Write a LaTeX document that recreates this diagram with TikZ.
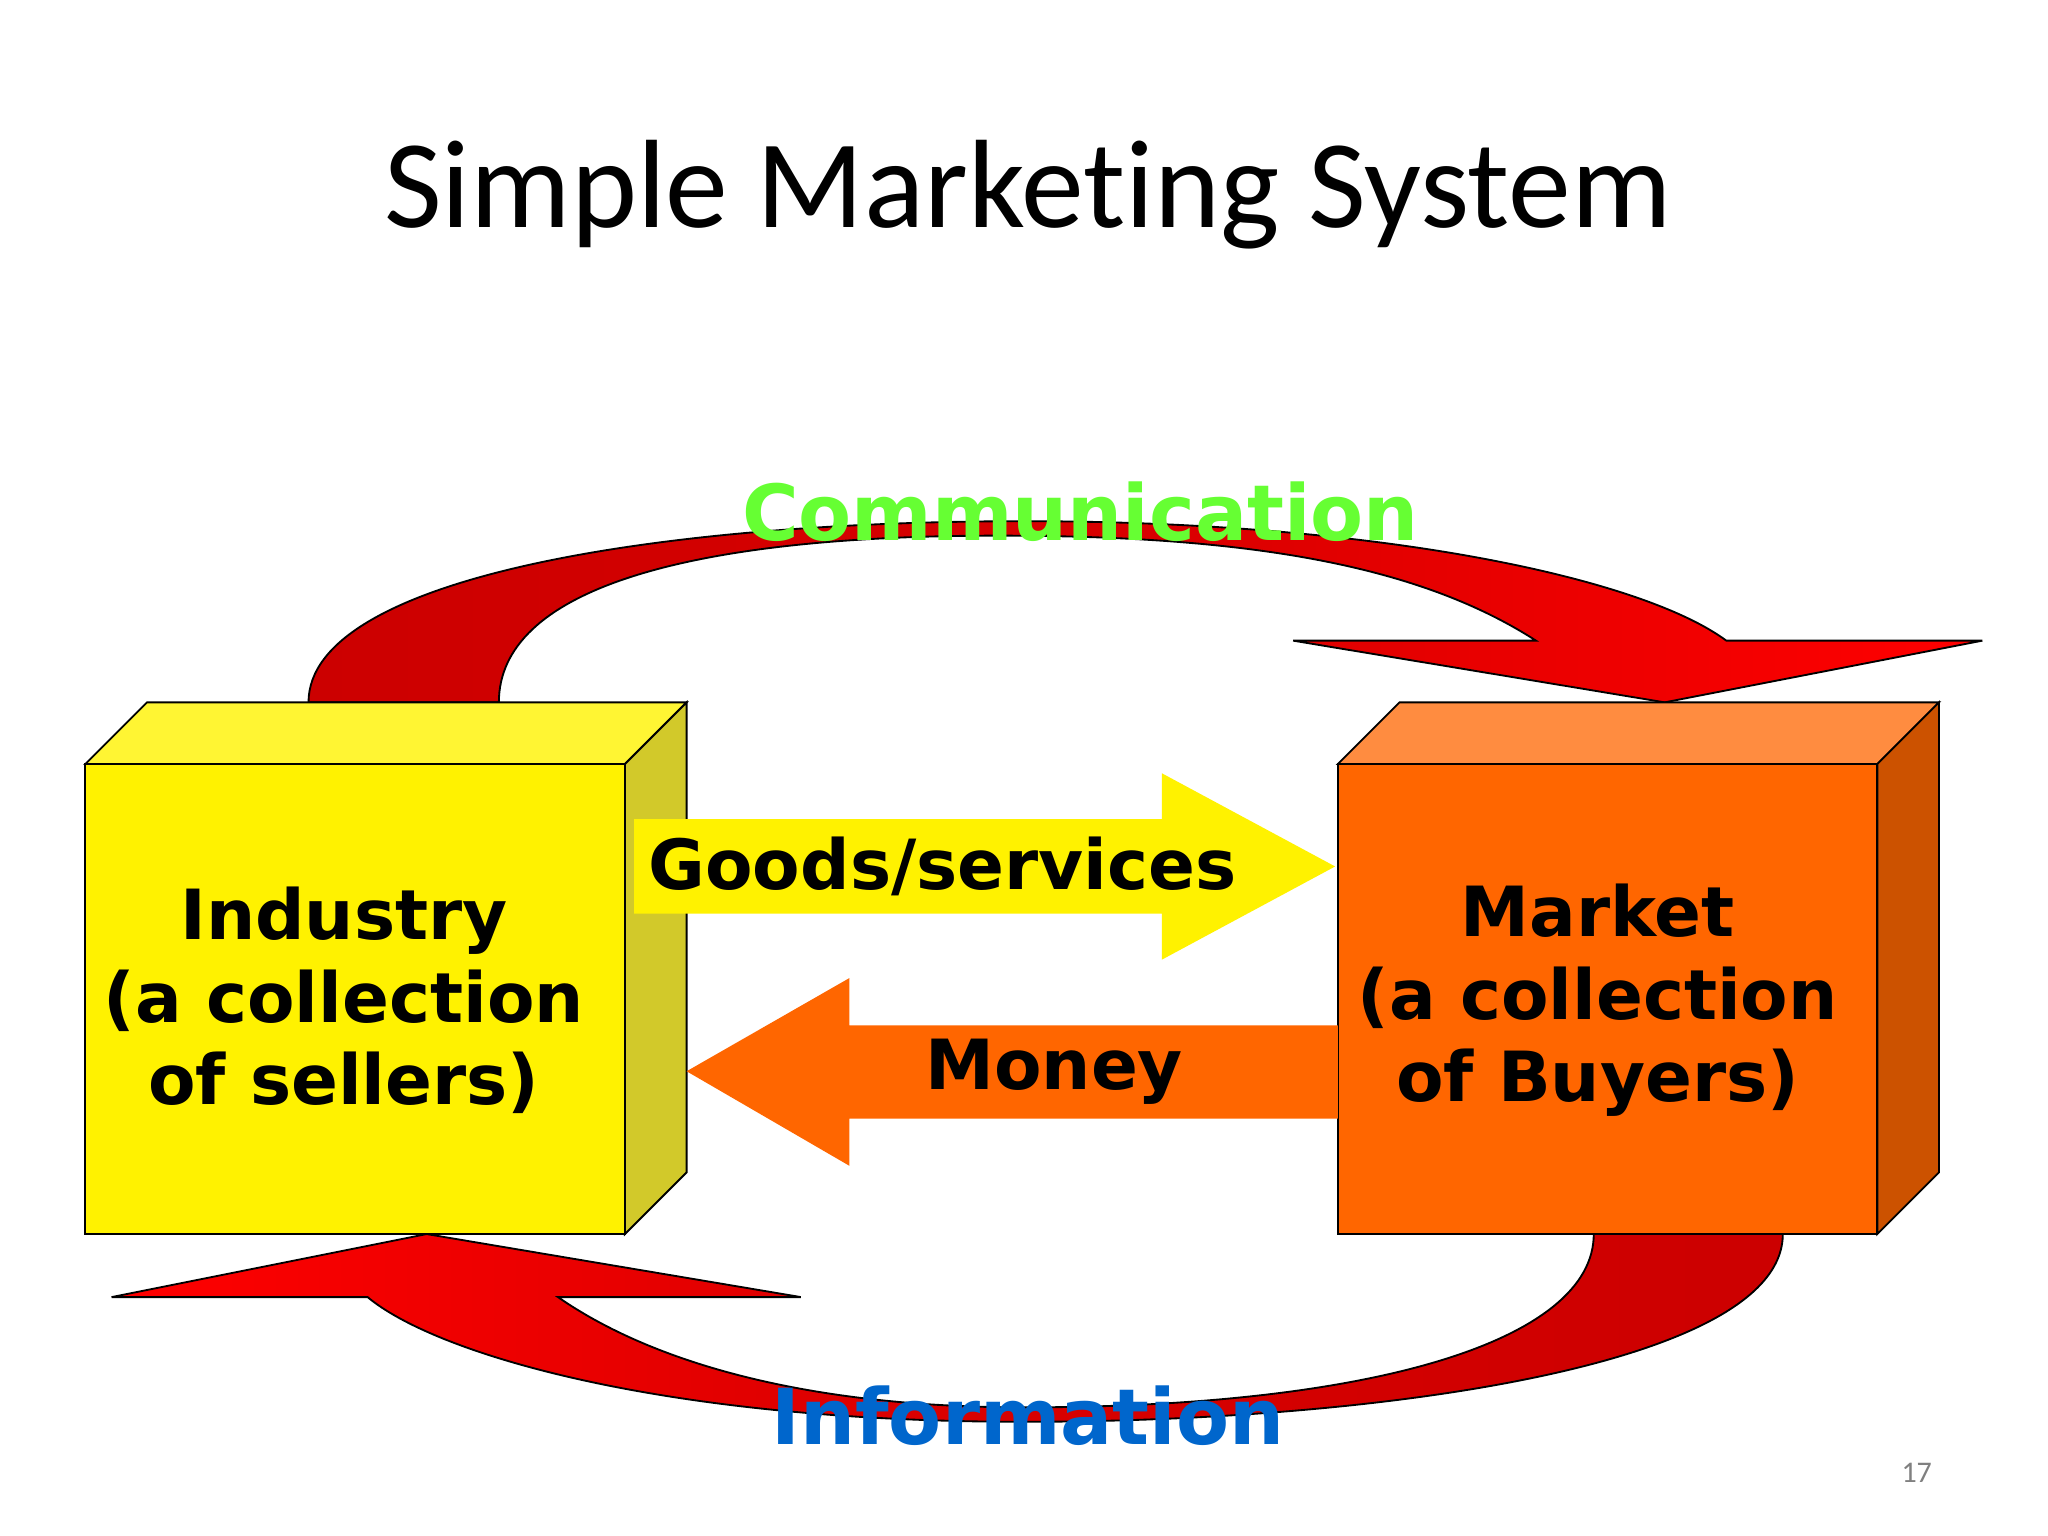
\documentclass[tikz,border=0pt]{standalone}
\usepackage{fontspec}
\setmainfont{DejaVu Sans}
\newfontfamily\titlefont[Ligatures=NoCommon]{Carlito}
\begin{document}
\begin{tikzpicture}[x=0.02cm,y=-0.02cm,
  edge/.style={draw=black,line width=0.8pt},
  boxtext/.style={font=\bfseries\fontsize{30}{35.7}\selectfont,align=center,text=black},
  flowtext/.style={font=\bfseries\fontsize{33.5}{40}\selectfont}]
\useasboundingbox[fill=white] (0,0) rectangle (1560,1170);
\node[font=\titlefont\fontsize{54.5}{60}\selectfont] (title) at (783,148) {Simple Marketing System};
% top curved arrow
\shade[left color=red!80!black,right color=red,middle color=red!85!black,edge]
 (235,535) .. controls (235,440) and (500,397) .. (780,397) .. controls (1050,397) and (1250,440) .. (1315,488)
 -- (1510,488) -- (1268,535) -- (985,488) -- (1170,488)
 .. controls (1080,430) and (950,408) .. (760,408) .. controls (520,408) and (380,450) .. (380,535) -- cycle;
% bottom curved arrow
\shade[left color=red,right color=red!80!black,middle color=red!85!black,edge]
 (1358,940) .. controls (1358,1040) and (1050,1083) .. (780,1083) .. controls (500,1083) and (330,1030) .. (280,988)
 -- (85,988) -- (325,940) -- (610,988) -- (425,988)
 .. controls (500,1040) and (620,1072) .. (780,1072) .. controls (1050,1072) and (1214,1020) .. (1214,940) -- cycle;
% yellow box
\fill[yellow!80!white,edge] (65,582) -- (112,535) -- (523,535) -- (476,582) -- cycle;
\fill[yellow!80!black,edge] (476,582) -- (523,535) -- (523,893) -- (476,940) -- cycle;
\fill[yellow,edge] (65,582) rectangle (476,940);
\node[boxtext] (industry) at (262,762) {Industry\\(a collection\\of sellers)};
% orange box
\definecolor{orng}{HTML}{FF6600}
\fill[orng!75!white,edge] (1019,582) -- (1066,535) -- (1477,535) -- (1430,582) -- cycle;
\fill[orng!80!black,edge] (1430,582) -- (1477,535) -- (1477,893) -- (1430,940) -- cycle;
\fill[orng,edge] (1019,582) rectangle (1430,940);
\node[boxtext] (market) at (1217,762) {Market\\(a collection\\of Buyers)};
% goods arrow
\fill[yellow] (483,624) -- (885,624) -- (885,589) -- (1017,660) -- (885,731) -- (885,696) -- (483,696) -- cycle;
\node[boxtext] (goods) at (718,660) {Goods/services};
% money arrow
\fill[orng] (1019,781) -- (647,781) -- (647,745) -- (523,816) -- (647,888) -- (647,852) -- (1019,852) -- cycle;
\node[boxtext] (money) at (803,816) {Money};
\node[flowtext,text={rgb,255:red,102;green,255;blue,51}] (comm) at (823,390) {Communication};
\node[flowtext,text={rgb,255:red,0;green,102;blue,204}] (info) at (783,1078) {Information};
\node[font=\titlefont\fontsize{13}{15}\selectfont,text=gray] (pg) at (1460,1122) {17};
\end{tikzpicture}
\end{document}
